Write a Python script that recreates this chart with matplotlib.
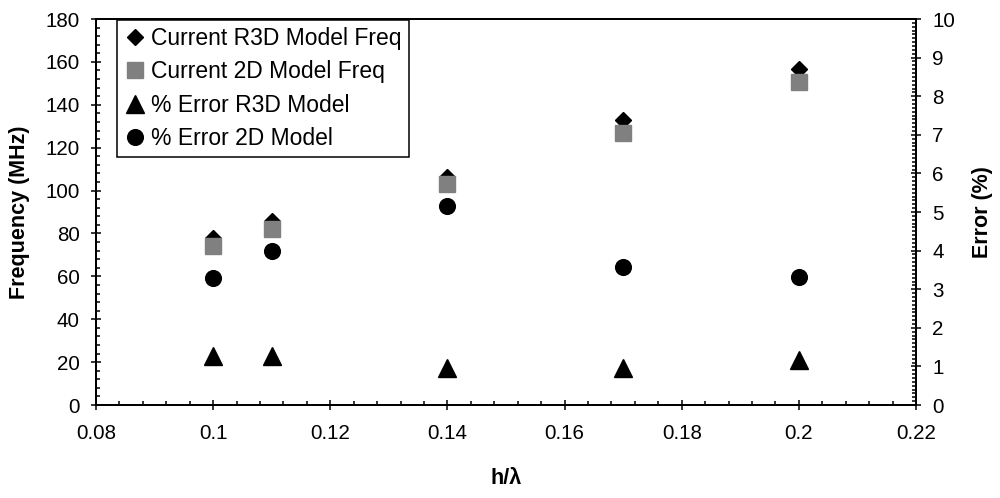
import matplotlib
matplotlib.use("Agg")
import matplotlib.pyplot as plt
from matplotlib.ticker import MultipleLocator, FuncFormatter

h_lambda = [0.10, 0.11, 0.14, 0.17, 0.20]
freq_r3d = [77.9, 86.0, 106.5, 132.9, 156.6]
freq_2d = [74.3, 82.1, 102.9, 127.0, 150.8]
err_r3d = [1.27, 1.27, 0.95, 0.97, 1.17]
err_2d = [3.28, 3.99, 5.16, 3.58, 3.32]

labels = ["Current R3D Model Freq", "Current 2D Model Freq",
          "% Error R3D Model", "% Error 2D Model"]

plt.rcParams['font.family'] = ['Liberation Sans', 'DejaVu Sans']

fig = plt.figure(figsize=(10, 4.98), dpi=100)
ax = fig.add_axes([0.096, 0.1867, 0.82, 0.7751])
ax2 = ax.twinx()

h1, = ax.plot(h_lambda, freq_r3d, linestyle='none', marker='D', ms=8.2,
              color='black', zorder=3)
h2, = ax.plot(h_lambda, freq_2d, linestyle='none', marker='s', ms=11.3,
              color='#808080', zorder=4)
h3, = ax2.plot(h_lambda, err_r3d, linestyle='none', marker='^', ms=12.5,
               color='black', zorder=3)
h4, = ax2.plot(h_lambda, err_2d, linestyle='none', marker='o', ms=11.3,
               color='black', zorder=3)

ax.set_xlim(0.08, 0.22)
ax.set_ylim(0, 180)
ax2.set_ylim(0, 10)

ax.xaxis.set_major_locator(MultipleLocator(0.02))
ax.xaxis.set_minor_locator(MultipleLocator(0.004))
ax.yaxis.set_major_locator(MultipleLocator(20))
ax.yaxis.set_minor_locator(MultipleLocator(4))
ax2.yaxis.set_major_locator(MultipleLocator(1))
ax2.yaxis.set_minor_locator(MultipleLocator(0.1))
ax.xaxis.set_major_formatter(FuncFormatter(lambda v, p: f"{v:g}"))

for a in (ax, ax2):
    for s in a.spines.values():
        s.set_linewidth(1.4)
        s.set_color('black')

ts = 14.8
ax.tick_params(axis='x', which='major', direction='inout', length=7.2,
               width=1.1, pad=10, labelsize=ts, top=False)
ax.tick_params(axis='x', which='minor', direction='in', length=3,
               width=1.1, top=False)
ax.tick_params(axis='y', which='major', direction='inout', length=7.2,
               width=1.1, pad=8, labelsize=ts, right=False)
ax.tick_params(axis='y', which='minor', direction='in', length=3,
               width=1.1, right=False)
ax2.tick_params(axis='y', which='major', direction='inout', length=7.2,
                width=1.1, pad=8, labelsize=ts)
ax2.tick_params(axis='y', which='minor', direction='in', length=3,
                width=1.1)

ax.set_xlabel("h/λ", fontsize=15.5, fontweight='bold', labelpad=18)
ax.set_ylabel("Frequency (MHz)", fontsize=15.5, fontweight='bold', labelpad=11)
ax2.set_ylabel("Error (%)", fontsize=15.5, fontweight='bold', labelpad=12)

leg = ax.legend([h1, h2, h3, h4], labels, loc='upper left',
                bbox_to_anchor=(0.0256, 0.997), borderaxespad=0,
                fontsize=16.5, frameon=True, fancybox=False, framealpha=1,
                edgecolor='black', handlelength=1.0, handletextpad=0.2,
                borderpad=0.3, labelspacing=0.45, numpoints=1)
leg.get_frame().set_linewidth(1.1)
leg.set_zorder(10)
ax.set_zorder(ax2.get_zorder() + 1)
ax.patch.set_visible(False)

fig.savefig("out.png", dpi=100)
